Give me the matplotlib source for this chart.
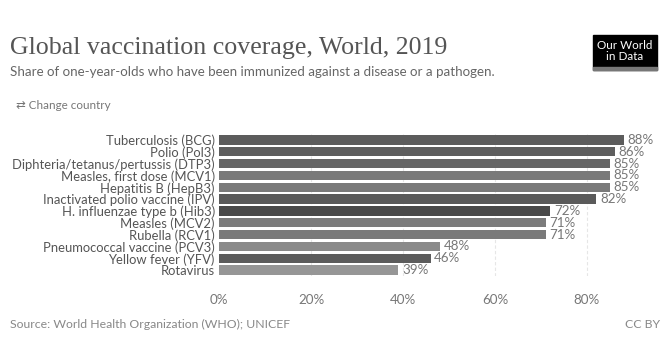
import numpy as np
import matplotlib.pyplot as plt
from matplotlib.patches import Rectangle

vaccines = ["Tuberculosis (BCG)", "Polio (Pol3)", "Diphteria/tetanus/pertussis (DTP3)",
            "Measles, first dose (MCV1)", "Hepatitis B (HepB3)", "Inactivated polio vaccine (IPV)",
            "H. influenzae type b (Hib3)", "Measles (MCV2)", "Rubella (RCV1)",
            "Pneumococcal vaccine (PCV3)", "Yellow fever (YFV)", "Rotavirus"]
coverage = [88, 86, 85, 85, 85, 82, 72, 71, 71, 48, 46, 39]
bar_colors = ["#5c5c5c", "#5e5e5e", "#666666", "#7a7a7a", "#7a7a7a", "#5a5a5a",
              "#4a4a4a", "#7c7c7c", "#7a7a7a", "#8a8a8a", "#5c5c5c", "#969696"]
ticks = [0, 20, 40, 60, 80]

W, H = 672, 351
fig = plt.figure(figsize=(W / 100, H / 100), dpi=100)
fig.patch.set_facecolor("white")

# axes: 0% at x=219, 80% at x=587; bars from y~135 to ~275
x0 = 219 / W
x80 = 587 / W
xmax = 100
ax_w = (x80 - x0) * xmax / 80
ax = fig.add_axes([x0, 1 - 276 / H, ax_w, (276 - 134) / H])

y = np.arange(len(vaccines))
ax.barh(y, coverage, height=0.78, color=bar_colors, zorder=2)
ax.set_ylim(len(vaccines) - 0.5, -0.5)
ax.set_xlim(0, xmax)
ax.set_yticks(y)
ax.set_yticklabels(vaccines, fontsize=9.4, color="#555555", family="Lato")
ax.tick_params(axis="y", length=0, pad=3)
ax.set_xticks(ticks)
ax.set_xticklabels([f"{t}%" for t in ticks], fontsize=9.6, color="#777777", family="Lato")
ax.tick_params(axis="x", length=0, pad=13)
for s in ax.spines.values():
    s.set_visible(False)
for t in ticks[1:]:
    ax.axvline(t, color="#e6e6e6", lw=0.8, ls=(0, (3, 2)), zorder=1)
for yi, v in zip(y, coverage):
    ax.text(v + 0.8, yi, f"{v}%", va="center", ha="left", fontsize=9.6,
            color="#777777", family="Lato")

# header
fig.text(10 / W, 1 - 48 / H, "Global vaccination coverage, World, 2019",
         fontsize=18.6, family="Liberation Serif", color="#555555", va="center")
fig.text(10 / W, 1 - 72 / H,
         "Share of one-year-olds who have been immunized against a disease or a pathogen.",
         fontsize=9.6, family="Lato", color="#666666", va="center")
fig.text(16 / W, 1 - 105 / H, "\u21c4 Change country", fontsize=8.4,
         family=["Lato", "DejaVu Sans"], color="#777777", va="center")

# logo
fig.patches.append(Rectangle((593 / W, 1 - 70 / H), 64 / W, 35 / H,
                             transform=fig.transFigure, color="#000000"))
fig.patches.append(Rectangle((593 / W, 1 - 70 / H), 64 / W, 3 / H,
                             transform=fig.transFigure, color="#777777"))
fig.text(625 / W, 1 - 51 / H, "Our World\nin Data", fontsize=8.4, family="Lato",
         color="white", ha="center", va="center", linespacing=1.0)

# footer
fig.text(10 / W, 1 - 324 / H, "Source: World Health Organization (WHO); UNICEF",
         fontsize=8.8, family="Lato", color="#888888", va="center")
fig.text(660 / W, 1 - 324 / H, "CC BY", fontsize=8.8, family="Lato",
         color="#888888", va="center", ha="right")

fig.savefig("out.png", dpi=100)
